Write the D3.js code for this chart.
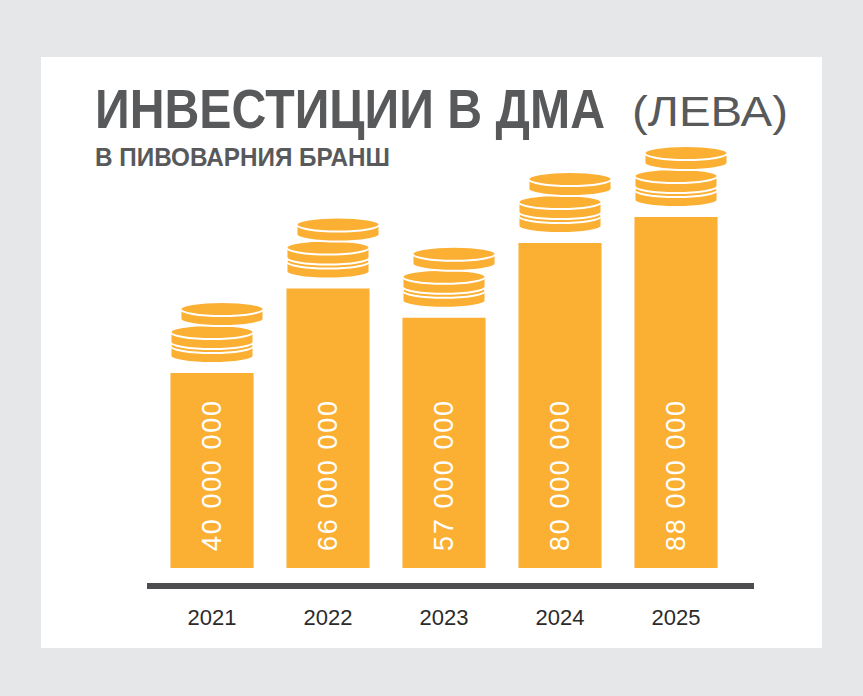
<!DOCTYPE html><html><head><meta charset="utf-8"><script src="https://cdn.jsdelivr.net/npm/d3@7"></script>
<style>body{margin:0;background:#e6e7e8}</style></head><body><svg id="c" width="863" height="696"></svg>
<script>
const years=["2021","2022","2023","2024","2025"];
const values=[40000000,66000000,57000000,80000000,88000000];
const labels=["40 000 000","66 000 000","57 000 000","80 000 000","88 000 000"];
const svg=d3.select("#c");
const O="#fbb034";
svg.append("rect").attr("x",41).attr("y",57).attr("width",781).attr("height",591).attr("fill","#fff");
const x=d3.scaleBand().domain(years).range([154,734]).paddingInner(0.284).paddingOuter(0.142);
const y=d3.scaleLinear().domain([0,88000000]).range([503,217]);
const base=568;
const g=svg.append("g");
years.forEach((yr,i)=>{
  const bx=x(yr),bw=x.bandwidth(),top=y(values[i]);
  g.append("rect").attr("x",bx).attr("y",top).attr("width",bw).attr("height",base-top).attr("fill",O);
  const coin=(cx,cy)=>{
    const rx=bw/2,ry=7,h=10;
    g.append("path").attr("d",`M${cx-rx},${cy} L${cx-rx},${cy+h} A${rx},${ry} 0 0 0 ${cx+rx},${cy+h} L${cx+rx},${cy} Z`).attr("fill",O).attr("stroke","#fff").attr("stroke-width",2);
    g.append("ellipse").attr("cx",cx).attr("cy",cy).attr("rx",rx).attr("ry",ry).attr("fill",O).attr("stroke","#fff").attr("stroke-width",2);
  };
  const c=bx+bw/2;
  coin(c,top-27);coin(c,top-41);coin(c+10,top-64);
  g.append("text").attr("transform",`translate(${c+9},${551}) rotate(-90)`).attr("fill","#fff")
   .attr("font-family","Liberation Sans, Arial").attr("font-size",27).attr("textLength",150).text(labels[i]);
  g.append("text").attr("x",c).attr("y",625).attr("text-anchor","middle").attr("fill","#2b2b2b")
   .attr("font-family","Liberation Sans, Arial").attr("font-size",22).text(yr);
});
svg.append("rect").attr("x",147).attr("y",583).attr("width",607).attr("height",6).attr("fill","#4d4d4f");
svg.append("text").attr("x",95).attr("y",128).attr("font-family","Liberation Sans Narrow, Liberation Sans").attr("font-weight","bold").attr("font-size",56).attr("fill","#58595b").attr("textLength",510).attr("lengthAdjust","spacingAndGlyphs").text("ИНВЕСТИЦИИ В ДМА");
svg.append("text").attr("x",632).attr("y",126).attr("font-family","Liberation Sans Narrow, Liberation Sans").attr("font-size",42).attr("fill","#58595b").attr("textLength",156).attr("lengthAdjust","spacingAndGlyphs").text("(ЛЕВА)");
svg.append("text").attr("x",95).attr("y",166).attr("font-family","Liberation Sans Narrow, Liberation Sans").attr("font-weight","bold").attr("font-size",25).attr("fill","#58595b").attr("textLength",295).attr("lengthAdjust","spacingAndGlyphs").text("В ПИВОВАРНИЯ БРАНШ");
</script></body></html>
